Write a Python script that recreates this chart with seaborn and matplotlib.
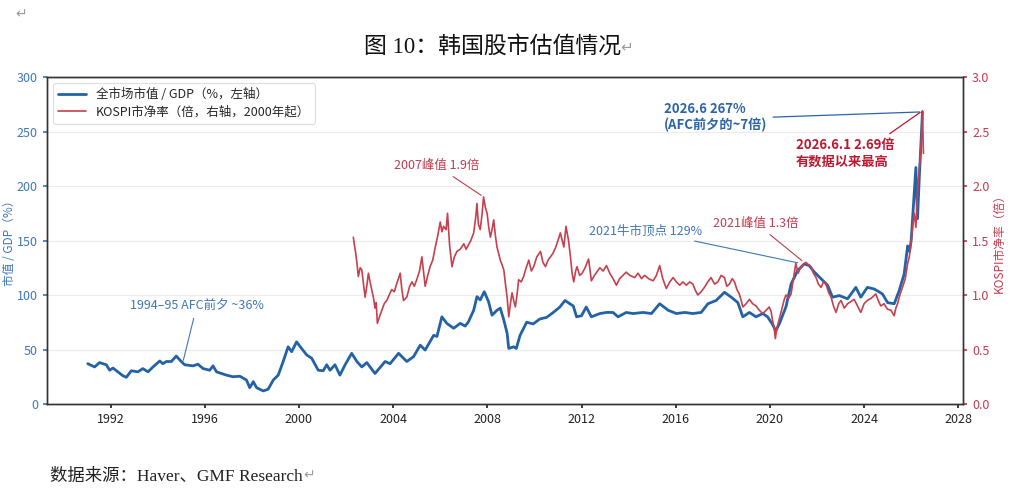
import pandas as pd
import numpy as np
import matplotlib
matplotlib.use("Agg")
import matplotlib.pyplot as plt
import seaborn as sns

# 数据：全市场市值/GDP（%，左轴），按图读出的近似值
cap_years = [1991.03, 1991.32, 1991.53, 1991.82, 1991.96, 1992.10, 1992.52, 1992.67, 1992.88,
             1993.16, 1993.37, 1993.59, 1993.80, 1994.09, 1994.22, 1994.37, 1994.58, 1994.79,
             1995.00, 1995.15, 1995.50, 1995.71, 1995.93, 1996.21, 1996.35, 1996.50, 1996.92,
             1997.20, 1997.49, 1997.77, 1997.91, 1998.06, 1998.20, 1998.48, 1998.69, 1998.91,
             1999.12, 1999.33, 1999.54, 1999.69, 1999.90, 2000.11, 2000.33, 2000.54, 2000.82,
             2001.03, 2001.18, 2001.32, 2001.53, 2001.74, 2001.96, 2002.24, 2002.46, 2002.67,
             2002.88, 2003.23, 2003.66, 2003.87, 2004.23, 2004.58, 2004.87, 2005.15, 2005.36,
             2005.72, 2005.86, 2006.07, 2006.28, 2006.57, 2006.85, 2007.06, 2007.20, 2007.42,
             2007.56, 2007.70, 2007.87, 2008.05, 2008.20, 2008.41, 2008.55, 2008.70, 2008.84,
             2008.91, 2009.12, 2009.23, 2009.39, 2009.67, 2009.95, 2010.23, 2010.52, 2010.80,
             2011.08, 2011.30, 2011.50, 2011.65, 2011.79, 2012.00, 2012.20, 2012.42, 2012.78,
             2013.06, 2013.34, 2013.55, 2013.90, 2014.19, 2014.61, 2014.97, 2015.32, 2015.68,
             2016.03, 2016.38, 2016.73, 2017.08, 2017.37, 2017.72, 2018.07, 2018.36, 2018.64,
             2018.85, 2019.13, 2019.41, 2019.70, 2019.90, 2020.10, 2020.25, 2020.40, 2020.68,
             2020.90, 2021.18, 2021.46, 2021.67, 2021.89, 2022.17, 2022.45, 2022.66, 2022.95,
             2023.30, 2023.65, 2023.86, 2024.14, 2024.43, 2024.78, 2025.00, 2025.28, 2025.49,
             2025.70, 2025.85, 2025.93, 2026.00, 2026.13, 2026.20, 2026.27, 2026.35, 2026.48]
cap_gdp = [37, 34, 38, 36, 31, 33, 26, 24.5, 30.5,
           29.5, 32.5, 29.5, 34, 39.5, 37, 39, 39, 44,
           39, 36, 35, 36.5, 32.5, 31, 35, 29.5, 26.5,
           25, 25.5, 22, 15, 20.5, 15, 12, 13.5, 22,
           26.5, 39, 52.5, 48, 57, 51, 45, 42, 31,
           30.5, 36, 31, 36, 26.5, 36, 46.5, 39, 34,
           38, 28, 39, 37, 46.5, 39, 43.5, 54, 49.5,
           63, 62, 80, 74, 69.5, 74, 71.5, 75.5, 86,
           98.5, 95.5, 103, 94, 81.5, 86, 88, 77, 65,
           51, 52.5, 51, 63, 75, 73.5, 78, 79.5, 84,
           89, 95, 92, 90, 80, 81, 89, 80, 83,
           84, 84, 80, 84, 83, 84, 83, 92, 86,
           83, 84, 83, 84, 92, 95, 102.5, 98, 93,
           80, 84, 80, 83, 80, 73.5, 67, 73.5, 89,
           110, 122.5, 128.5, 127, 121, 115, 109, 98, 99.5,
           96.5, 107, 98, 107, 105.5, 101, 93, 92, 104,
           119, 145, 140, 150, 193, 217, 170, 210, 268]

# 数据：KOSPI 市净率（倍，右轴）
pb_years = [2002.31, 2002.36, 2002.40, 2002.47, 2002.52, 2002.60, 2002.67, 2002.74, 2002.81, 2002.88,
            2002.95, 2003.02, 2003.09, 2003.16, 2003.23, 2003.28, 2003.33, 2003.42, 2003.52, 2003.62,
            2003.73, 2003.83, 2003.94, 2004.05, 2004.16, 2004.30, 2004.37, 2004.44, 2004.58, 2004.70,
            2004.80, 2004.90, 2005.00, 2005.12, 2005.22, 2005.30, 2005.36, 2005.47, 2005.57, 2005.68,
            2005.79, 2005.90, 2006.00, 2006.07, 2006.14, 2006.25, 2006.31, 2006.40, 2006.50, 2006.60,
            2006.71, 2006.85, 2007.00, 2007.10, 2007.20, 2007.30, 2007.42, 2007.50, 2007.56, 2007.62,
            2007.70, 2007.78, 2007.84, 2007.92, 2007.99, 2008.06, 2008.13, 2008.20, 2008.27, 2008.34,
            2008.41, 2008.48, 2008.55, 2008.62, 2008.70, 2008.77, 2008.84, 2008.91, 2008.98, 2009.05,
            2009.12, 2009.19, 2009.26, 2009.33, 2009.44, 2009.54, 2009.65, 2009.76, 2009.87, 2009.97,
            2010.10, 2010.26, 2010.36, 2010.47, 2010.58, 2010.68, 2010.78, 2010.89, 2011.00, 2011.10,
            2011.18, 2011.25, 2011.34, 2011.45, 2011.53, 2011.60, 2011.67, 2011.75, 2011.81, 2011.92,
            2012.03, 2012.15, 2012.30, 2012.42, 2012.55, 2012.68, 2012.78, 2012.92, 2013.06, 2013.20,
            2013.34, 2013.48, 2013.62, 2013.76, 2013.90, 2014.05, 2014.26, 2014.40, 2014.55, 2014.68,
            2014.85, 2015.04, 2015.18, 2015.32, 2015.45, 2015.60, 2015.75, 2015.89, 2016.03, 2016.17,
            2016.31, 2016.45, 2016.60, 2016.73, 2016.84, 2016.94, 2017.08, 2017.22, 2017.36, 2017.50,
            2017.65, 2017.79, 2017.93, 2018.07, 2018.17, 2018.28, 2018.40, 2018.50, 2018.60, 2018.70,
            2018.78, 2018.85, 2018.99, 2019.13, 2019.27, 2019.41, 2019.55, 2019.70, 2019.84, 2019.97,
            2020.05, 2020.11, 2020.18, 2020.23, 2020.30, 2020.40, 2020.52, 2020.60, 2020.68, 2020.80,
            2020.90, 2021.00, 2021.10, 2021.20, 2021.32, 2021.42, 2021.53, 2021.63, 2021.74, 2021.85,
            2021.96, 2022.06, 2022.17, 2022.28, 2022.38, 2022.50, 2022.60, 2022.70, 2022.81, 2022.92,
            2023.02, 2023.16, 2023.30, 2023.44, 2023.58, 2023.72, 2023.86, 2024.00, 2024.14, 2024.30,
            2024.50, 2024.60, 2024.71, 2024.85, 2024.99, 2025.14, 2025.28, 2025.35, 2025.42, 2025.52,
            2025.63, 2025.75, 2025.85, 2025.92, 2025.99, 2026.06, 2026.13, 2026.20, 2026.27, 2026.34,
            2026.41, 2026.48, 2026.52]
kospi_pb = [1.53, 1.45, 1.40, 1.28, 1.17, 1.25, 1.23, 1.10, 0.98, 1.08,
            1.20, 1.12, 1.05, 0.98, 0.88, 0.93, 0.74, 0.80, 0.86, 0.92,
            0.95, 1.00, 1.05, 1.03, 1.11, 1.20, 1.05, 0.95, 0.98, 1.08,
            1.12, 1.08, 1.14, 1.22, 1.35, 1.20, 1.08, 1.18, 1.26, 1.32,
            1.44, 1.55, 1.67, 1.58, 1.63, 1.60, 1.75, 1.45, 1.26, 1.35,
            1.40, 1.42, 1.47, 1.42, 1.46, 1.50, 1.57, 1.70, 1.84, 1.65,
            1.60, 1.75, 1.90, 1.80, 1.75, 1.62, 1.53, 1.60, 1.69, 1.55,
            1.44, 1.38, 1.32, 1.28, 1.23, 1.10, 0.98, 0.80, 0.92, 1.02,
            0.95, 0.89, 1.00, 1.14, 1.12, 1.17, 1.25, 1.32, 1.22, 1.26,
            1.35, 1.40, 1.30, 1.26, 1.32, 1.35, 1.38, 1.43, 1.50, 1.57,
            1.50, 1.44, 1.63, 1.50, 1.35, 1.20, 1.12, 1.22, 1.26, 1.18,
            1.20, 1.25, 1.33, 1.13, 1.18, 1.22, 1.25, 1.22, 1.27, 1.20,
            1.15, 1.09, 1.15, 1.18, 1.21, 1.18, 1.16, 1.20, 1.15, 1.18,
            1.15, 1.13, 1.18, 1.27, 1.15, 1.06, 1.12, 1.16, 1.12, 1.09,
            1.12, 1.09, 1.12, 1.10, 1.04, 1.00, 1.03, 1.07, 1.12, 1.16,
            1.10, 1.12, 1.18, 1.16, 1.08, 1.10, 1.15, 1.12, 1.05, 1.01,
            0.95, 0.89, 0.92, 0.96, 0.92, 0.90, 0.86, 0.83, 0.86, 0.89,
            0.85, 0.77, 0.70, 0.60, 0.70, 0.78, 0.88, 0.95, 1.00, 0.97,
            1.01, 1.15, 1.29, 1.20, 1.26, 1.28, 1.30, 1.28, 1.26, 1.20,
            1.16, 1.10, 1.07, 1.12, 1.10, 1.02, 0.98, 0.90, 0.84, 0.92,
            0.95, 0.88, 0.92, 0.94, 0.96, 0.90, 0.84, 0.92, 0.95, 0.97,
            1.01, 0.95, 0.90, 0.92, 0.87, 0.86, 0.81, 0.88, 0.92, 1.00,
            1.07, 1.15, 1.29, 1.35, 1.47, 1.62, 1.75, 1.62, 1.95, 2.14,
            2.33, 2.69, 2.30]

year_ticks = [1992, 1996, 2000, 2004, 2008, 2012, 2016, 2020, 2024, 2028]

BLUE = "#2462a6"
RED = "#c6404f"
BLUE_TXT = "#3f78b6"
RED_TXT = "#c23b4e"

cap_df = pd.DataFrame({"year": cap_years, "value": cap_gdp})
pb_df = pd.DataFrame({"year": pb_years, "value": kospi_pb})

sns.set_theme(style="ticks")
plt.rcParams["font.family"] = ["Noto Sans CJK SC", "DejaVu Sans"]
plt.rcParams["axes.unicode_minus"] = False

fig = plt.figure(figsize=(10.24, 4.93), dpi=100)
ax = fig.add_axes([0.0459, 0.1805, 0.8945, 0.6633])
ax2 = ax.twinx()

sns.lineplot(data=cap_df, x="year", y="value", ax=ax, color=BLUE, linewidth=2.0,
             label="全市场市值 / GDP（%，左轴）", legend=False)
sns.lineplot(data=pb_df, x="year", y="value", ax=ax2, color=RED, linewidth=1.2,
             label="KOSPI市净率（倍，右轴，2000年起）", legend=False)

ax.set_xlim(1989.3, 2028.2)
ax.set_ylim(0, 300)
ax2.set_ylim(0, 3)
ax.set_xticks(year_ticks)
ax.set_xticklabels([str(y) for y in year_ticks])
ax.set_yticks(np.arange(0, 301, 50))
ax2.set_yticks(np.arange(0, 3.01, 0.5))
ax2.set_yticklabels([f"{v:.1f}" for v in np.arange(0, 3.01, 0.5)])

ax.set_xlabel("")
ax.set_ylabel("市值 / GDP（%）", color=BLUE_TXT, fontsize=8.5, labelpad=1)
ax2.set_ylabel("KOSPI市净率（倍）", color=RED_TXT, fontsize=8.5, labelpad=2)
ax.tick_params(axis="y", colors=BLUE_TXT, labelsize=9, length=3)
ax2.tick_params(axis="y", colors=RED_TXT, labelsize=9, length=3)
ax.tick_params(axis="x", labelsize=9, length=3, colors="#222222")
for a in (ax, ax2):
    for sp in a.spines.values():
        sp.set_color("#333333")
        sp.set_linewidth(1.0)

ax.yaxis.grid(True, color="#ebebeb", linewidth=0.8)
ax.set_axisbelow(True)

h1, l1 = ax.get_legend_handles_labels()
h2, l2 = ax2.get_legend_handles_labels()
leg = ax.legend(h1 + h2, l1 + l2, loc="upper left", fontsize=9, frameon=True,
                framealpha=1, edgecolor="#dddddd", handlelength=2.2,
                borderpad=0.4, labelspacing=0.35)
leg.get_frame().set_linewidth(0.8)

# 注释
ax.annotate("1994–95 AFC前夕 ~36%", xy=(1995.06, 37.5), xytext=(1995.66, 90),
            ha="center", va="center", fontsize=9, color=BLUE_TXT,
            arrowprops=dict(arrowstyle="-", color=BLUE_TXT, lw=0.8))
ax2.annotate("2007峰值 1.9倍", xy=(2007.84, 1.90), xytext=(2005.83, 2.19),
             ha="center", va="center", fontsize=9, color=RED_TXT,
             arrowprops=dict(arrowstyle="-", color=RED_TXT, lw=0.8))
ax.annotate("2021牛市顶点 129%", xy=(2021.3, 129), xytext=(2014.72, 159),
            ha="center", va="center", fontsize=9, color=BLUE_TXT,
            arrowprops=dict(arrowstyle="-", color=BLUE_TXT, lw=0.8))
ax2.annotate("2021峰值 1.3倍", xy=(2021.45, 1.30), xytext=(2019.4, 1.66),
             ha="center", va="center", fontsize=9, color=RED_TXT,
             arrowprops=dict(arrowstyle="-", color=RED_TXT, lw=0.8))
ax2.annotate("2026.6 267%\n(AFC前夕的~7倍)", xy=(2026.48, 2.68), xytext=(2015.49, 2.63),
             ha="left", va="center", fontsize=9.5, fontweight="bold", color="#2b65a8",
             linespacing=1.15,
             arrowprops=dict(arrowstyle="-", color="#2b65a8", lw=0.9, relpos=(1.0, 0.5)))
ax2.annotate("2026.6.1 2.69倍\n有数据以来最高", xy=(2026.48, 2.69), xytext=(2021.11, 2.30),
             ha="left", va="center", fontsize=9.5, fontweight="bold", color="#c0182f",
             linespacing=1.15,
             arrowprops=dict(arrowstyle="-", color="#c0182f", lw=0.9, relpos=(0.88, 1.0)))

# 文档标题与来源（↵ 为原文中的段落标记）
doc_font = ["Liberation Serif", "Noto Sans CJK SC", "DejaVu Sans"]
fig.text(0.015, 0.962, "↵", fontsize=10, color="#9a9a9a", family=["DejaVu Sans"])
title = fig.text(0.355, 0.905, "图 10：韩国股市估值情况", fontsize=16.5, ha="left",
                 va="center", family=doc_font, color="#111111")
src = fig.text(0.049, 0.032, "数据来源：Haver、GMF Research", fontsize=12.5, ha="left",
               va="center", family=doc_font, color="#222222")
fig.canvas.draw()
for t, y, size in ((title, 0.905, 11), (src, 0.036, 10)):
    bb = t.get_window_extent()
    fig.text(bb.x1 / fig.bbox.width, y, "↵", fontsize=size, ha="left", va="center",
             color="#9a9a9a", family=["DejaVu Sans"])

fig.savefig("out.png", dpi=100)
